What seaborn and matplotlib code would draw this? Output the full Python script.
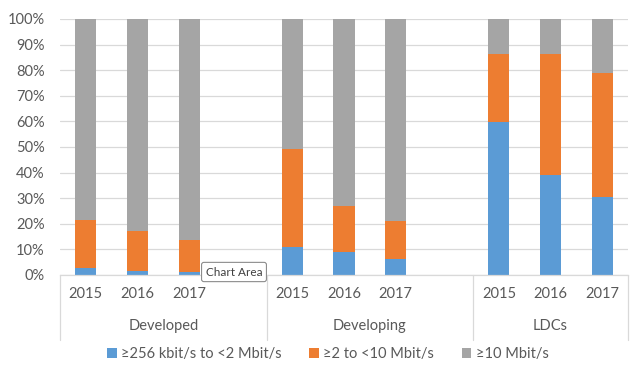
import numpy as np
import pandas as pd
import matplotlib
matplotlib.use("Agg")
import matplotlib.pyplot as plt
import matplotlib.transforms as mtransforms
from matplotlib.patches import Patch
import seaborn as sns

# %% data (percent shares)
groups = ["Developed", "Developing", "LDCs"]
years = ["2015", "2016", "2017"]
low = [2.6, 1.7, 1.2, 10.9, 9.0, 6.3, 59.9, 39.2, 30.3]        # >=256 kbit/s to <2 Mbit/s
mid = [18.9, 15.6, 12.5, 38.3, 18.0, 14.7, 26.4, 47.1, 48.7]   # >=2 to <10 Mbit/s
series = ["≥256 kbit/s to <2 Mbit/s", "≥2 to <10 Mbit/s", "≥10 Mbit/s"]
colors = ["#5B9BD5", "#ED7D31", "#A5A5A5"]
tooltip = "Chart Area"

# %% table: one row per bar, slot leaves a blank category between groups
rows = []
for g, grp in enumerate(groups):
    for j, yr in enumerate(years):
        k = g * len(years) + j
        rows.append({"group": grp, "year": yr, "slot": g * (len(years) + 1) + j,
                     "low": low[k], "mid": mid[k]})
df = pd.DataFrame(rows)
df["high"] = 100 - df["low"] - df["mid"]
df["cum_mid"] = df["low"] + df["mid"]
df["cum_high"] = df["cum_mid"] + df["high"]

sns.set_style("white")
plt.rcParams["font.family"] = ["Lato", "DejaVu Sans"]
text_c = "#595959"
grid_c = "#D9D9D9"

fig = plt.figure(figsize=(6.39, 3.87), dpi=100)
W, H = 639, 387
ax = fig.add_axes([60 / W, 1 - 275 / H, 568 / W, 256 / H])

# stacked bars drawn back to front from cumulative sums
for col, color in zip(["cum_high", "cum_mid", "low"], colors[::-1]):
    sns.barplot(data=df, x="slot", y=col, native_scale=True, width=0.41,
                color=color, saturation=1, linewidth=0, ax=ax)

ax.set_xlim(-0.5, 10.5)
ax.set_ylim(0, 100)
ax.set_yticks(np.arange(0, 101, 10))
ax.set_yticklabels([f"{v}%" for v in range(0, 101, 10)])
ax.yaxis.grid(True, color=grid_c, linewidth=0.9)
ax.set_axisbelow(True)
ax.set_xticks(df["slot"])
ax.set_xticklabels(df["year"])
ax.tick_params(axis="both", length=0, labelsize=10.5, labelcolor=text_c)
ax.tick_params(axis="y", pad=11)
ax.tick_params(axis="x", pad=9)
ax.set_xlabel("")
ax.set_ylabel("")
for s in ["top", "right", "left"]:
    ax.spines[s].set_visible(False)
ax.spines["bottom"].set_color(grid_c)
ax.spines["bottom"].set_linewidth(0.9)

# group separators and labels under the year ticks
trans = mtransforms.blended_transform_factory(ax.transData, ax.transAxes)
n = len(years) + 1
edges = [-0.5 + g * n for g in range(len(groups))] + [10.5]
for x in edges:
    ax.plot([x, x], [0, -65 / 256], color=grid_c, linewidth=0.9,
            transform=trans, clip_on=False)
for g, grp in enumerate(groups):
    cx = (edges[g] + edges[g + 1]) / 2
    ax.text(cx, -51 / 256, grp, transform=trans, ha="center", va="center",
            fontsize=10.5, color=text_c)

handles = [Patch(facecolor=c, edgecolor="none") for c in colors]
fig.legend(handles, series, loc="center", bbox_to_anchor=(0.513, 1 - 354 / H),
           ncol=3, frameon=False, fontsize=10.5, labelcolor=text_c,
           handlelength=0.65, handleheight=0.65, handletextpad=0.3, columnspacing=1.9)

fig.text(234 / W, 1 - 272 / H, tooltip, ha="center", va="center", fontsize=8.5,
         color="#404040",
         bbox=dict(boxstyle="round,pad=0.35,rounding_size=0.2", facecolor="white",
                   edgecolor="#8C8C8C", linewidth=0.8))

fig.savefig("out.png", dpi=100, facecolor="white")
